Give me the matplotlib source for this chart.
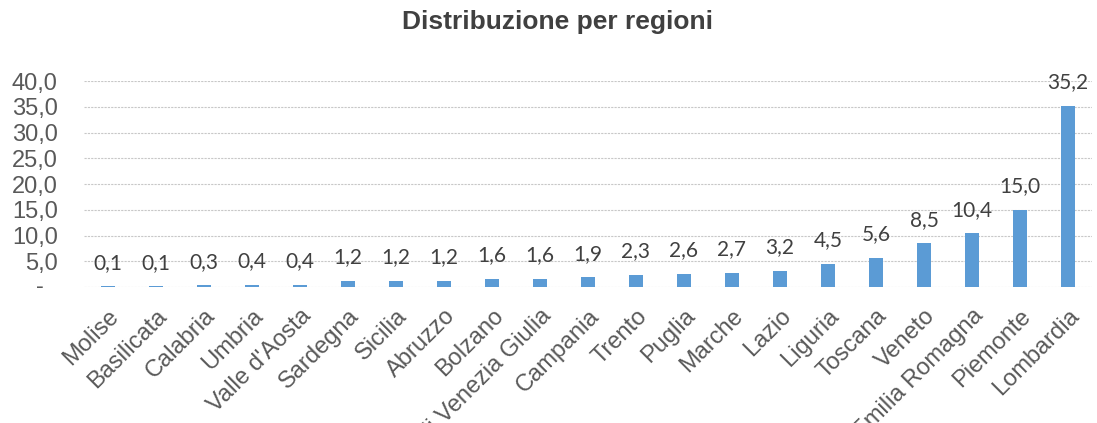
import matplotlib
matplotlib.use("Agg")
import matplotlib.pyplot as plt
import matplotlib.transforms as mtransforms
from matplotlib.ticker import FuncFormatter

regions = ["Molise", "Basilicata", "Calabria", "Umbria", "Valle d'Aosta", "Sardegna",
           "Sicilia", "Abruzzo", "Bolzano", "Friuli Venezia Giulia", "Campania", "Trento",
           "Puglia", "Marche", "Lazio", "Liguria", "Toscana", "Veneto", "Emilia Romagna",
           "Piemonte", "Lombardia"]
values = [0.1, 0.1, 0.3, 0.4, 0.4, 1.2, 1.2, 1.2, 1.6, 1.6, 1.9, 2.3, 2.6, 2.7, 3.2,
          4.5, 5.6, 8.5, 10.4, 15.0, 35.2]
yticks = [0, 5, 10, 15, 20, 25, 30, 35, 40]
title = "Distribuzione per regioni"

fig = plt.figure(figsize=(10.97, 4.23), dpi=100)
ax = fig.add_axes([0.0766, 0.3215, 0.9188, 0.487])

x = list(range(len(regions)))
ax.bar(x, values, width=0.3, color="#5B9BD5", zorder=3)
ax.set_xlim(-0.5, len(regions) - 0.5)
ax.set_ylim(0, 40)
ax.set_yticks(yticks)
ax.yaxis.set_major_formatter(FuncFormatter(
    lambda v, p: "" if v == 0 else f"{v:.1f}".replace(".", ",")))
ax.grid(axis="y", color="#C8C8C8", linestyle=(0, (2, 1)), linewidth=0.8, zorder=0)
for s in ax.spines.values():
    s.set_visible(False)
ax.tick_params(axis="both", length=0)
ax.tick_params(axis="y", labelsize=17, labelcolor="#595959", pad=19)
ax.set_xticks(x)
ax.set_xticklabels(regions, rotation=45, ha="right", va="top",
                   rotation_mode="anchor", fontsize=17, color="#595959",
                   family="Liberation Sans")
ax.tick_params(axis="x", pad=13)
for lab in ax.get_yticklabels():
    lab.set_family("Liberation Sans")

# zero label shown as "-" (accounting format), centred under the comma column
ax.text(0, yticks[0], "-", ha="center", va="center", fontsize=17, color="#595959",
        family="Liberation Sans",
        transform=ax.get_yaxis_transform() +
        mtransforms.ScaledTranslation(-44 / 100, 0, fig.dpi_scale_trans))

for xi, v in zip(x, values):
    ax.annotate(f"{v:.1f}".replace(".", ","), (xi, v), xytext=(0, 17),
                textcoords="offset points", ha="center", va="center",
                fontsize=15, color="#404040", family="Lato")

fig.text(0.508, 0.947, title, ha="center", va="center", fontsize=19,
         fontweight="bold", color="#404040", family="Liberation Sans")

fig.savefig("out.png", dpi=100)
